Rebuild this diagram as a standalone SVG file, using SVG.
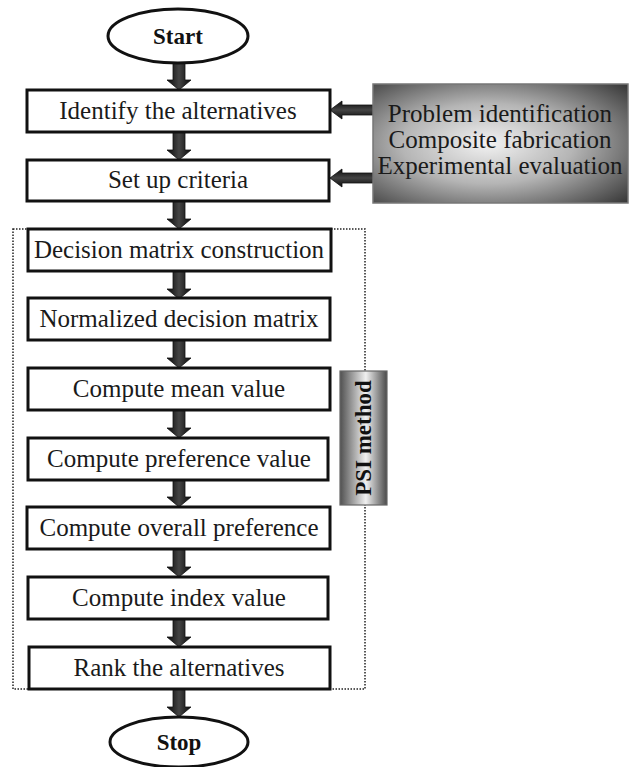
<svg xmlns="http://www.w3.org/2000/svg" width="632" height="767" viewBox="0 0 632 767">
<defs>
<linearGradient id="shaftV" x1="0" y1="0" x2="1" y2="0">
<stop offset="0" stop-color="#0a0a0a"/><stop offset="0.5" stop-color="#444"/><stop offset="1" stop-color="#0a0a0a"/>
</linearGradient>
<linearGradient id="shaftH" x1="0" y1="0" x2="0" y2="1">
<stop offset="0" stop-color="#0a0a0a"/><stop offset="0.5" stop-color="#444"/><stop offset="1" stop-color="#0a0a0a"/>
</linearGradient>
<radialGradient id="grayBox" cx="0.45" cy="0.5" r="0.75">
<stop offset="0" stop-color="#f2f2f2"/><stop offset="0.45" stop-color="#b5b5b5"/><stop offset="1" stop-color="#333"/>
</radialGradient>
<linearGradient id="psiGrad" x1="0" y1="0" x2="1" y2="0">
<stop offset="0" stop-color="#505050"/><stop offset="0.55" stop-color="#f0f0f0"/><stop offset="1" stop-color="#4a4a4a"/>
</linearGradient>
<style>
.box{fill:#fff;stroke:#111;stroke-width:3}
.ell{fill:#fff;stroke:#111;stroke-width:3}
.t{font-family:"Liberation Serif","Times New Roman",serif;font-size:25px;fill:#1a1a1a;text-anchor:middle}
.tb{font-family:"Liberation Serif","Times New Roman",serif;font-size:23px;font-weight:bold;fill:#111;text-anchor:middle}
.av{fill:url(#shaftV);stroke:#111;stroke-width:0.8}
.ah{fill:url(#shaftH);stroke:#111;stroke-width:0.8}
</style>
</defs>
<rect x="13" y="229" width="352" height="460" fill="none" stroke="#222" stroke-width="1.5" stroke-dasharray="1.5 1.5"/>
<g id="connectors">
<polygon class="av" points="173,63 185,63 185,80 191,80 179,90 167,80 173,80"/>
<polygon class="av" points="173,132 185,132 185,150 191,150 179,160 167,150 173,150"/>
<polygon class="av" points="173,201 185,201 185,219 191,219 179,229 167,219 173,219"/>
<polygon class="av" points="173,271 185,271 185,289 191,289 179,299 167,289 173,289"/>
<polygon class="av" points="173,340 185,340 185,358 191,358 179,368 167,358 173,358"/>
<polygon class="av" points="173,410 185,410 185,428 191,428 179,438 167,428 173,428"/>
<polygon class="av" points="173,480 185,480 185,497 191,497 179,507 167,497 173,497"/>
<polygon class="av" points="173,549 185,549 185,567 191,567 179,577 167,567 173,567"/>
<polygon class="av" points="173,619 185,619 185,637 191,637 179,647 167,637 173,637"/>
<polygon class="av" points="173,689 185,689 185,707 191,707 179,717 167,707 173,707"/>
<polygon class="ah" points="373,105 342,105 342,101 330,110 342,119 342,115 373,115"/>
<polygon class="ah" points="373,173 342,173 342,169 330,178 342,187 342,183 373,183"/>
</g>
<g id="start"><ellipse class="ell" cx="178" cy="36" rx="70" ry="27"/><text class="tb" x="178" y="44">Start</text></g>
<g id="identify"><rect class="box" x="27" y="90" width="303" height="42"/><text class="t" x="178" y="119">Identify the alternatives</text></g>
<g id="criteria"><rect class="box" x="27" y="160" width="302" height="41"/><text class="t" x="178" y="188">Set up criteria</text></g>
<g id="source"><rect x="373" y="84" width="255" height="119" fill="url(#grayBox)" stroke="#777" stroke-width="1.5"/>
<text class="t" x="500" y="122">Problem identification</text>
<text class="t" x="500" y="148">Composite fabrication</text>
<text class="t" x="500" y="174">Experimental evaluation</text></g>
<g id="decision"><rect class="box" x="28" y="229" width="303" height="42"/><text class="t" x="179" y="258">Decision matrix construction</text></g>
<g id="normalized"><rect class="box" x="28" y="298" width="302" height="42"/><text class="t" x="179" y="327">Normalized decision matrix</text></g>
<g id="mean"><rect class="box" x="28" y="368" width="302" height="42"/><text class="t" x="179" y="397">Compute mean value</text></g>
<g id="preference"><rect class="box" x="28" y="438" width="300" height="42"/><text class="t" x="179" y="467">Compute preference value</text></g>
<g id="overall"><rect class="box" x="27" y="507" width="303" height="42"/><text class="t" x="179" y="536">Compute overall preference</text></g>
<g id="index"><rect class="box" x="28" y="577" width="300" height="42"/><text class="t" x="179" y="606">Compute index value</text></g>
<g id="rank"><rect class="box" x="29" y="647" width="301" height="42"/><text class="t" x="179" y="676">Rank the alternatives</text></g>
<g id="stop"><ellipse class="ell" cx="179" cy="742" rx="69" ry="25"/><text class="tb" x="179" y="750">Stop</text></g>
<g id="psi"><rect x="340" y="371" width="47" height="134" fill="url(#psiGrad)" stroke="#666" stroke-width="1.2"/>
<text class="tb" x="0" y="0" transform="translate(371,438) rotate(-90)">PSI method</text></g>
</svg>
